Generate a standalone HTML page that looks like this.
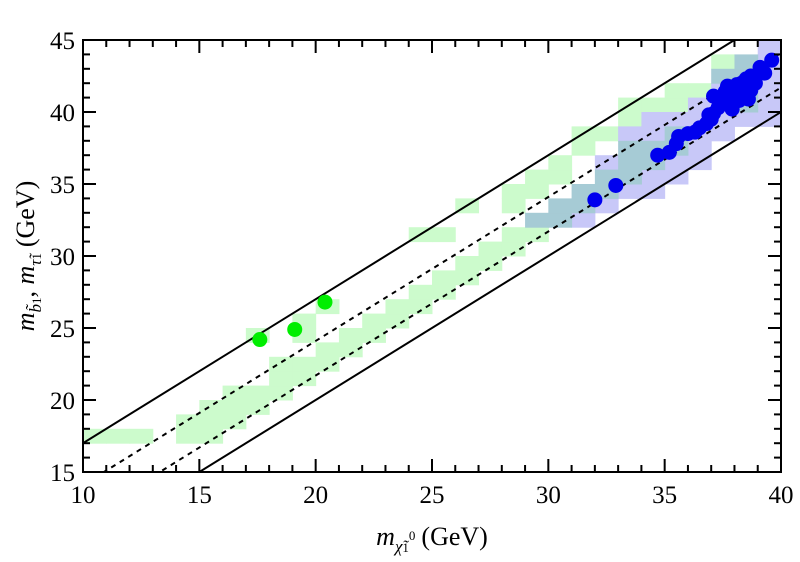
<!DOCTYPE html>
<html><head><meta charset="utf-8"><style>
html,body{margin:0;padding:0;background:#fff;overflow:hidden;width:800px;height:562px;}
svg{display:block;}
text{font-family:"Liberation Serif","Times New Roman","Noto Serif CJK SC","DejaVu Serif",serif;}
</style></head><body>
<svg id="chart" width="800" height="562" viewBox="0 0 800 562" xmlns="http://www.w3.org/2000/svg">
<rect width="800" height="562" fill="#fff"/>
<clipPath id="clip"><rect x="83" y="40" width="698" height="432"/></clipPath>
<g id="cells" clip-path="url(#clip)"></g>
<g id="lines" clip-path="url(#clip)"></g>
<g id="dots" clip-path="url(#clip)"></g>
<g id="axes"></g>
<text x="432" y="545" font-size="26" text-anchor="middle"><tspan font-style="italic">m</tspan><tspan font-size="17" dy="7" font-style="italic">χ̃</tspan><tspan font-size="13">1</tspan><tspan font-size="13" dy="-12">0</tspan><tspan dy="5" dx="6">(GeV)</tspan></text>
<text transform="translate(34,256) rotate(-90)" font-size="26" text-anchor="middle"><tspan font-style="italic">m</tspan><tspan font-size="17" dy="7" font-style="italic">b̃</tspan><tspan font-size="13">1</tspan><tspan dy="-7">, </tspan><tspan font-style="italic">m</tspan><tspan font-size="17" dy="7" font-style="italic">τ̃</tspan><tspan font-size="13">1</tspan><tspan dy="-7" dx="6">(GeV)</tspan></text>
</svg>
<script>
const xTicks=[10,15,20,25,30,35,40];
const yTicks=[15,20,25,30,35,40,45];
const greenCells=[[10,17],[11,17],[12,17],[14,17],[14,18],[15,17],[15,18],[15,19],[16,18],[16,19],[16,20],[17,19],[17,20],[17,24],[18,20],[18,21],[18,22],[19,21],[19,22],[19,24],[19,25],[20,22],[20,23],[20,26],[21,23],[21,24],[22,24],[22,25],[23,25],[23,26],[24,26],[24,27],[24,31],[25,27],[25,28],[25,31],[26,28],[26,29],[26,33],[27,29],[27,30],[28,30],[28,31],[28,33],[28,34],[29,31],[29,34],[29,35],[30,35],[30,36],[31,37],[31,38],[32,38],[33,39],[33,40],[34,40],[35,40],[35,41],[36,41],[37,43]];
const blueCells=[[31,32],[32,33],[32,36],[33,34],[33,38],[34,34],[34,35],[34,38],[34,39],[35,35],[35,36],[35,39],[36,36],[36,37],[36,38],[36,39],[36,40],[37,38],[37,39],[37,40],[37,41],[38,39],[39,39],[39,40],[39,41],[39,42],[39,43],[39,44]];
const tealCells=[[29,32],[30,32],[30,33],[31,33],[31,34],[32,34],[32,35],[33,35],[33,36],[33,37],[34,36],[34,37],[35,37],[35,38],[37,42],[38,40],[38,41],[38,42],[38,43]];
const lineOffsets=[7,0];
const dashOffsets=[4.1,1.7];
const greenX=[17.6,19.1,20.4];
const greenY=[24.2,24.9,26.8];
const blueX=[32.0,32.9,34.7,35.2,35.5,35.6,36.0,36.3,36.5,36.8,37.0,37.1,37.1,37.3,37.5,37.6,37.8,37.9,38.0,38.1,38.3,38.4,38.5,38.6,38.7,38.9,39.1,39.3,39.6,37.7,38.2,37.4,37.9,38.3,38.7,36.9,37.6];
const blueY=[33.9,34.9,37.0,37.2,37.8,38.3,38.5,38.6,38.9,39.2,39.5,39.9,41.1,40.3,40.6,41.0,40.5,41.3,41.6,41.9,42.0,41.4,42.3,40.9,42.5,42.0,43.1,42.7,43.6,41.8,40.8,40.9,40.2,41.0,41.5,39.8,41.4];
const NS='http://www.w3.org/2000/svg';
const X0=83,X1=781,Y0=472,Y1=40;
function sx(v){return X0+(v-10)*(X1-X0)/30;}
function sy(v){return Y0-(v-15)*(Y0-Y1)/30;}
function mk(tag,attrs,parent){const e=document.createElementNS(NS,tag);for(const k in attrs)e.setAttribute(k,attrs[k]);parent.appendChild(e);return e;}
const cg=document.getElementById('cells');
function drawCells(arr,color,name){arr.forEach(c=>{const r=mk('rect',{x:sx(c[0]),y:sy(c[1]+1),width:sx(c[0]+1)-sx(c[0])+0.5,height:sy(c[1])-sy(c[1]+1)+0.5,fill:color},cg);

});}
drawCells(greenCells,'#ccfbcc','green-cell');
drawCells(blueCells,'#c8c8f8','blue-cell');
drawCells(tealCells,'#a6cbd5','overlap-cell');
const lg=document.getElementById('lines');
lineOffsets.forEach(o=>{const l=mk('line',{x1:sx(5),y1:sy(5+o),x2:sx(45),y2:sy(45+o),stroke:'#000','stroke-width':2},lg);

});
dashOffsets.forEach(o=>{const l=mk('line',{x1:sx(5),y1:sy(5+o),x2:sx(45),y2:sy(45+o),stroke:'#000','stroke-width':2,'stroke-dasharray':'5,5'},lg);

});
const dg=document.getElementById('dots');
greenX.forEach((v,i)=>{const c=mk('circle',{cx:sx(v),cy:sy(greenY[i]),r:7.5,fill:'#00ee00'},dg);

});
blueX.forEach((v,i)=>{const c=mk('circle',{cx:sx(v),cy:sy(blueY[i]),r:7.5,fill:'#0000ee'},dg);

});
const ag=document.getElementById('axes');
const fr=mk('rect',{x:X0,y:Y1,width:X1-X0,height:Y0-Y1,fill:'none',stroke:'#000','stroke-width':2},ag);


for(let v=10;v<=40;v++){const maj=v%5===0,L=maj?13:7,x=sx(v);
mk('line',{x1:x,y1:Y0,x2:x,y2:Y0-L,stroke:'#000','stroke-width':2},ag);
mk('line',{x1:x,y1:Y1,x2:x,y2:Y1+L,stroke:'#000','stroke-width':2},ag);}
for(let v=15;v<=45;v++){const maj=v%5===0,L=maj?13:7,y=sy(v);
mk('line',{x1:X0,y1:y,x2:X0+L,y2:y,stroke:'#000','stroke-width':2},ag);
mk('line',{x1:X1,y1:y,x2:X1-L,y2:y,stroke:'#000','stroke-width':2},ag);}
xTicks.forEach(v=>{const t=mk('text',{x:sx(v),y:Y0+31,'font-size':25,'text-anchor':'middle'},ag);t.textContent=v;

});
yTicks.forEach(v=>{const t=mk('text',{x:X0-8,y:sy(v)+9,'font-size':25,'text-anchor':'end'},ag);t.textContent=v;

});
</script>
</body></html>
